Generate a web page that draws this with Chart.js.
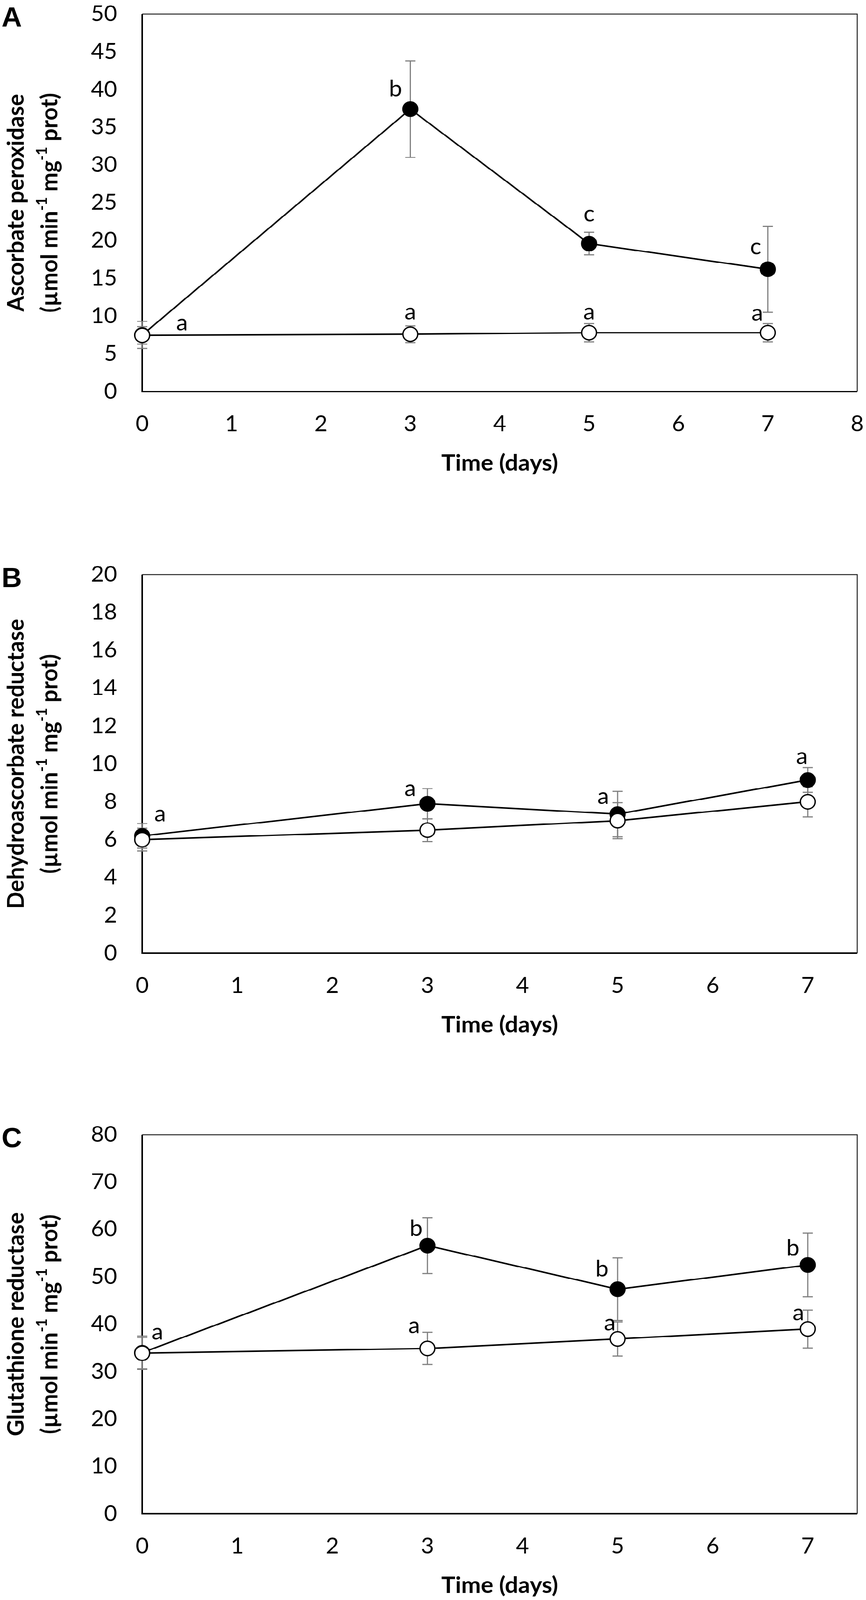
<!DOCTYPE html>
<html>
<head>
<meta charset="utf-8">
<script src="https://cdn.jsdelivr.net/npm/chart.js@4.4.1/dist/chart.umd.min.js"></script>
<style>
  html, body { margin: 0; padding: 0; background: #fff; overflow: hidden; }
  #page { position: absolute; left: 0; top: 0; width: 2217px; height: 4233px; transform-origin: 0 0; }
  .panel { position: absolute; left: 0; width: 2217px; }
  canvas { display: block; }
</style>
</head>
<body>
<div id="page">
  <div class="panel" style="top:0px"><canvas id="chartA" width="2217" height="1300"></canvas></div>
  <div class="panel" style="top:1300px"><canvas id="chartB" width="2217" height="1486"></canvas></div>
  <div class="panel" style="top:2786px"><canvas id="chartC" width="2217" height="1447"></canvas></div>
</div>
<script>
// sampling days (x)
const days = [0, 3, 5, 7];

// A - ascorbate peroxidase
const apxTreated = [7.5, 37.4, 19.6, 16.2];
const apxTreatedErr = [1.8, 6.4, 1.5, 5.7];
const apxControl = [7.45, 7.6, 7.8, 7.8];
const apxControlErr = [1.15, 1.1, 1.2, 1.2];
const apxTreatedLetters = ['', 'b', 'c', 'c'];
const apxControlLetters = ['a', 'a', 'a', 'a'];
const apxYTicks = [0, 5, 10, 15, 20, 25, 30, 35, 40, 45, 50];
const apxXTicks = [0, 1, 2, 3, 4, 5, 6, 7, 8];

// B - dehydroascorbate reductase
const dharTreated = [6.2, 7.9, 7.35, 9.15];
const dharTreatedErr = [0.65, 0.8, 1.2, 0.65];
const dharControl = [6.0, 6.5, 7.0, 8.0];
const dharControlErr = [0.6, 0.6, 0.95, 0.8];
const dharTreatedLetters = ['', 'a', 'a', 'a'];
const dharControlLetters = ['a', '', '', ''];
const dharYTicks = [0, 2, 4, 6, 8, 10, 12, 14, 16, 18, 20];
const dharXTicks = [0, 1, 2, 3, 4, 5, 6, 7];

// C - glutathione reductase
const grTreated = [34.0, 56.6, 47.4, 52.5];
const grTreatedErr = [3.5, 5.9, 6.6, 6.7];
const grControl = [33.9, 34.9, 36.9, 39.0];
const grControlErr = [3.3, 3.4, 3.6, 4.0];
const grTreatedLetters = ['', 'b', 'b', 'b'];
const grControlLetters = ['a', 'a', 'a', 'a'];
const grYTicks = [0, 10, 20, 30, 40, 50, 60, 70, 80];
const grXTicks = [0, 1, 2, 3, 4, 5, 6, 7];

// the viewport can come out a bit shorter than the figure, squeeze to fit
const fit = window.innerHeight / 4233;
if (fit > 0 && fit < 1) document.getElementById('page').style.transform = 'scaleY(' + fit + ')';

const FONT = 'Lato, "Open Sans", sans-serif';
Chart.defaults.font.family = FONT;
Chart.defaults.color = '#000';

// frame + error bars under the markers, letters and titles on top
const decor = {
  id: 'decor',
  beforeDatasetsDraw(chart, args, o) {
    const {ctx, chartArea: a} = chart;
    const xs = chart.scales.x, ys = chart.scales.y;
    ctx.save();
    ctx.strokeStyle = '#222';
    ctx.lineWidth = 2.5;
    ctx.beginPath();
    ctx.moveTo(a.left, a.top); ctx.lineTo(a.right, a.top); ctx.lineTo(a.right, a.bottom);
    ctx.stroke();
    ctx.strokeStyle = '#000';
    ctx.lineWidth = 4;
    ctx.beginPath();
    ctx.moveTo(a.left, a.top); ctx.lineTo(a.left, a.bottom); ctx.lineTo(a.right, a.bottom);
    ctx.stroke();

    ctx.strokeStyle = '#7f7f7f';
    ctx.lineWidth = 3;
    chart.data.datasets.forEach(ds => {
      ds.data.forEach((p, j) => {
        const e = ds.errors[j];
        const x = xs.getPixelForValue(p.x);
        const y1 = ys.getPixelForValue(p.y + e), y2 = ys.getPixelForValue(p.y - e);
        ctx.beginPath();
        ctx.moveTo(x, y1); ctx.lineTo(x, y2);
        ctx.moveTo(x - 13, y1); ctx.lineTo(x + 13, y1);
        ctx.moveTo(x - 13, y2); ctx.lineTo(x + 13, y2);
        ctx.stroke();
      });
    });
    ctx.restore();
  },
  afterDraw(chart, args, o) {
    const {ctx, chartArea: a} = chart;
    const xs = chart.scales.x, ys = chart.scales.y;
    ctx.save();
    // significance letters
    ctx.fillStyle = '#000';
    ctx.font = '60px ' + FONT;
    ctx.textAlign = 'center';
    ctx.textBaseline = 'alphabetic';
    chart.data.datasets.forEach(ds => {
      ds.data.forEach((p, j) => {
        const t = ds.letters[j];
        if (!t) return;
        const off = ds.letterOffsets[j];
        const x = xs.getPixelForValue(p.x) + off[0];
        const y = ys.getPixelForValue(p.y) + off[1] + (t === 'b' ? 21 : 15);
        ctx.fillText(t, x, y);
      });
    });

    // panel letter
    ctx.textAlign = 'left';
    ctx.font = 'bold 72px "Liberation Sans", Arial, sans-serif';
    ctx.fillText(o.panel, 4, a.top + 33);

    // two-line rotated y title with superscripts
    const cy = (a.top + a.bottom) / 2;
    const big = 'bold 60px ' + FONT, small = 'bold 38px ' + FONT;
    ctx.textBaseline = 'middle';
    ctx.save();
    ctx.translate(42, cy);
    ctx.rotate(-Math.PI / 2);
    ctx.textAlign = 'center';
    ctx.font = big;
    ctx.fillText(o.title, 0, 0);
    ctx.restore();

    const parts = [['(µmol min', 0], ['-1', 1], [' mg', 0], ['-1', 1], [' prot)', 0]];
    let total = 0;
    parts.forEach(p => { ctx.font = p[1] ? small : big; total += ctx.measureText(p[0]).width; });
    ctx.save();
    ctx.translate(128, cy);
    ctx.rotate(-Math.PI / 2);
    ctx.textAlign = 'left';
    let x = -total / 2;
    parts.forEach(p => {
      ctx.font = p[1] ? small : big;
      ctx.fillText(p[0], x, p[1] ? -20 : 0);
      x += ctx.measureText(p[0]).width;
    });
    ctx.restore();
    ctx.restore();
  }
};

function series(label, values, errors, letters, offsets, fill) {
  return {
    label,
    data: days.map((d, i) => ({x: d, y: values[i]})),
    errors, letters, letterOffsets: offsets,
    borderColor: '#000',
    borderWidth: 4,
    pointRadius: 19,
    pointHoverRadius: 19,
    pointBorderWidth: 3.5,
    pointBorderColor: '#000',
    pointBackgroundColor: fill,
    tension: 0,
    clip: false
  };
}

function makeChart(id, cfg) {
  return new Chart(document.getElementById(id), {
    type: 'line',
    data: {
      datasets: [
        series('Control', cfg.control, cfg.controlErr, cfg.controlLetters, cfg.controlOffsets, '#fff'),
        series('Treated', cfg.treated, cfg.treatedErr, cfg.treatedLetters, cfg.treatedOffsets, '#000')
      ]
    },
    options: {
      responsive: false,
      animation: false,
      devicePixelRatio: 1,
      layout: {padding: {left: 0, right: 22, top: cfg.padTop, bottom: 0}},
      plugins: {
        legend: {display: false},
        tooltip: {enabled: false},
        decor: {panel: cfg.panel, title: cfg.title}
      },
      scales: {
        x: {
          type: 'linear',
          min: 0,
          max: cfg.xMax,
          afterBuildTicks: s => { s.ticks = cfg.xTicks.map(v => ({value: v})); },
          afterFit: s => { s.height = cfg.xHeight; s.paddingLeft = 0; s.paddingRight = 0; },
          grid: {display: false, drawTicks: false},
          border: {display: false},
          ticks: {font: {size: 58}, color: '#000', padding: 51, maxRotation: 0},
          title: {
            display: true,
            text: 'Time (days)',
            font: {size: 60, weight: 'bold'},
            color: '#000',
            padding: {top: 0, bottom: cfg.xHeight - 190 - 36}
          }
        },
        y: {
          min: 0,
          max: cfg.yTicks[cfg.yTicks.length - 1],
          afterBuildTicks: s => { s.ticks = cfg.yTicks.map(v => ({value: v})); },
          // fixed axis width, and no extra room reserved above/below the labels
          afterFit: s => { s.width = 364; s.paddingTop = 0; s.paddingBottom = 0; },
          grid: {display: false, drawTicks: false},
          border: {display: false},
          ticks: {font: {size: 58}, color: '#000', padding: 64}
        }
      }
    },
    plugins: [decor]
  });
}

makeChart('chartA', {
  panel: 'A', title: 'Ascorbate peroxidase',
  treated: apxTreated, treatedErr: apxTreatedErr, treatedLetters: apxTreatedLetters,
  control: apxControl, controlErr: apxControlErr, controlLetters: apxControlLetters,
  treatedOffsets: [[0, 0], [-38, -55], [0, -73], [-31, -54]],
  controlOffsets: [[102, -28], [0, -54], [0, -50], [-27, -47]],
  yTicks: apxYTicks, xTicks: apxXTicks, xMax: 8,
  padTop: 37, xHeight: 264
});

makeChart('chartB', {
  panel: 'B', title: 'Dehydroascorbate reductase',
  treated: dharTreated, treatedErr: dharTreatedErr, treatedLetters: dharTreatedLetters,
  control: dharControl, controlErr: dharControlErr, controlLetters: dharControlLetters,
  treatedOffsets: [[0, 0], [-44, -35], [-37, -42], [-15, -58]],
  controlOffsets: [[46, -63], [0, 0], [0, 0], [0, 0]],
  yTicks: dharYTicks, xTicks: dharXTicks, xMax: 7.52,
  padTop: 220, xHeight: 264
});

makeChart('chartC', {
  panel: 'C', title: 'Glutathione reductase',
  treated: grTreated, treatedErr: grTreatedErr, treatedLetters: grTreatedLetters,
  control: grControl, controlErr: grControlErr, controlLetters: grControlLetters,
  treatedOffsets: [[0, 0], [-29, -46], [-40, -55], [-38, -46]],
  controlOffsets: [[39, -51], [-34, -55], [-20, -37], [-24, -38]],
  yTicks: grYTicks, xTicks: grXTicks, xMax: 7.52,
  padTop: 216, xHeight: 228
});
</script>
</body>
</html>
